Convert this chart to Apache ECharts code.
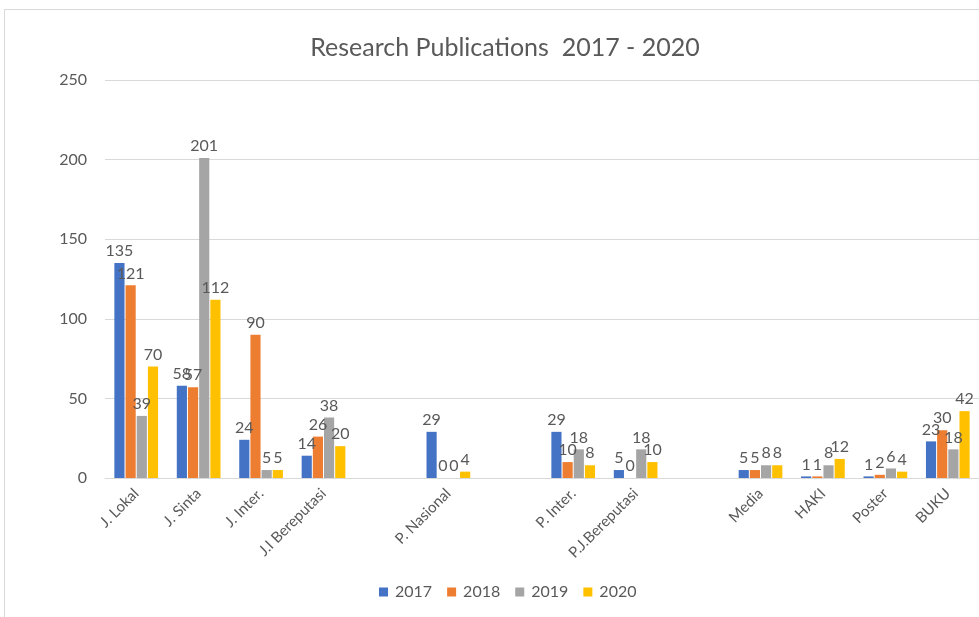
<!DOCTYPE html>
<html>
<head>
<meta charset="utf-8">
<script src="https://cdn.jsdelivr.net/npm/echarts@6/dist/echarts.min.js"></script>
<style>
html,body{margin:0;padding:0;background:#fff;}
#frame{position:absolute;left:4px;top:9px;width:1000px;height:640px;border:1px solid #d9d9d9;box-sizing:border-box;}
#c{position:absolute;left:0;top:0;width:979px;height:617px;}
</style>
</head>
<body>
<div id="frame"></div>
<div id="c"></div>
<script>
const categories = ['J. Lokal','J. Sinta','J. Inter.','J.I Bereputasi',' ','P. Nasional','  ','P. Inter.','P.J.Bereputasi','   ','Media','HAKI','Poster','BUKU'];
const years = ['2017','2018','2019','2020'];
const v2017 = [135,58,24,14,null,29,null,29,5,null,5,1,1,23];
const v2018 = [121,57,90,26,null,0,null,10,0,null,5,1,2,30];
const v2019 = [39,201,5,38,null,0,null,18,18,null,8,8,6,18];
const v2020 = [70,112,5,20,null,4,null,8,10,null,8,12,4,42];
const yTicks = [0,50,100,150,200,250];
const colors = ['#4472C4','#ED7D31','#A5A5A5','#FFC000'];
const seriesValues = [v2017,v2018,v2019,v2020];

const chart = echarts.init(document.getElementById('c'));
const font = 'Lato, "Open Sans", sans-serif';
chart.setOption({
  animation:false,
  textStyle:{fontFamily:font},
  title:{text:'Research Publications  2017 - 2020',left:500,top:30,textAlign:'center',
    textStyle:{fontFamily:font,fontSize:25,fontWeight:'normal',color:'#595959'}},
  legend:{data:years,top:579,left:374,itemWidth:9,itemHeight:9,itemGap:15,icon:'rect',
    textStyle:{fontFamily:font,fontSize:16,color:'#595959',padding:[0,0,0,2]}},
  grid:{left:105,width:877,top:80,bottom:139,containLabel:false},
  xAxis:{type:'category',data:categories,
    axisLine:{lineStyle:{color:'#d9d9d9'}},axisTick:{show:false},
    axisLabel:{rotate:45,interval:0,fontFamily:font,fontSize:15,color:'#595959',margin:13}},
  yAxis:{type:'value',min:yTicks[0],max:yTicks[yTicks.length-1],interval:50,
    axisLine:{show:false},axisTick:{show:false},
    splitLine:{lineStyle:{color:'#d9d9d9'}},
    axisLabel:{fontFamily:font,fontSize:16,color:'#595959',margin:18}},
  series:seriesValues.map((d,i)=>({
    name:years[i],type:'bar',data:d,barGap:'10%',barCategoryGap:'30%',
    itemStyle:{color:colors[i]},
    label:{show:true,position:'top',distance:4,fontFamily:font,fontSize:16,color:'#595959'}
  }))
});
</script>
</body>
</html>
